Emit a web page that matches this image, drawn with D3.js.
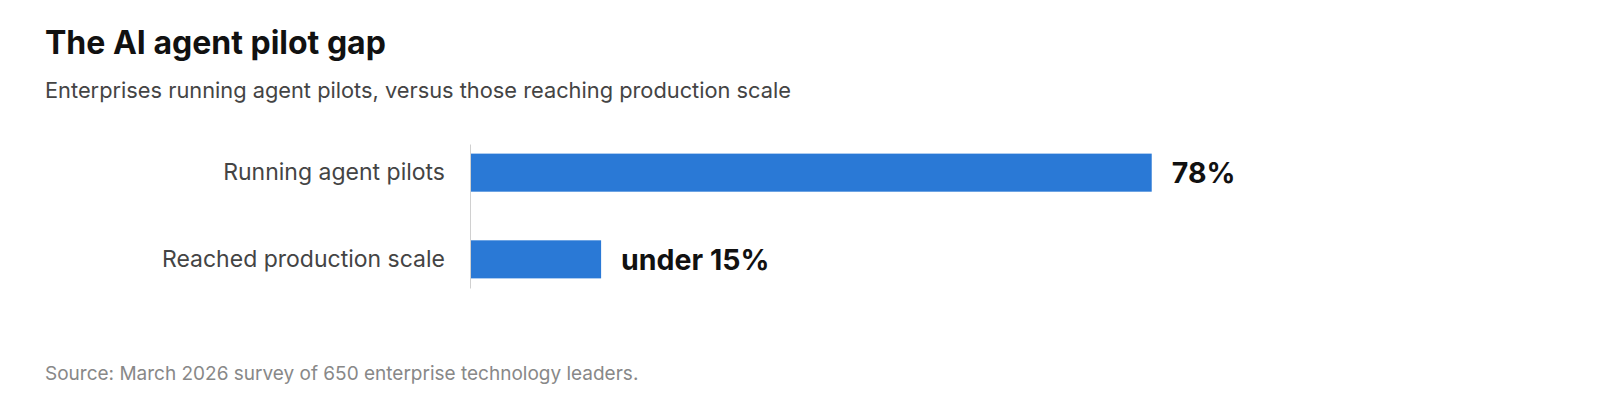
<!DOCTYPE html>
<html>
<head>
<meta charset="utf-8">
<script src="https://cdn.jsdelivr.net/npm/d3@7"></script>
<style>
  html, body { margin: 0; padding: 0; background: #fff; }
  #chart { width: 1600px; height: 410px; }
  text { font-family: Inter, "Noto Sans", sans-serif; }
</style>
</head>
<body>
<div id="chart"></div>
<script>
// chart data
const categories = ["Running agent pilots", "Reached production scale"]
const values     = [78, 15]
const valueLabels = ["78%", "under 15%"]

const title    = "The AI agent pilot gap"
const subtitle = "Enterprises running agent pilots, versus those reaching production scale"
const source   = "Source: March 2026 survey of 650 enterprise technology leaders."

const WIDTH  = 1600
const HEIGHT = 410

var svg = d3.select("#chart")
	.append("svg")
	.attr("width", WIDTH)
	.attr("height", HEIGHT)

svg.append("text")
	.attr("x", 45)
	.attr("y", 54)
	.attr("font-size", 32)
	.attr("font-weight", "bold")
	.attr("fill", "#111")
	.text(title)

svg.append("text")
	.attr("x", 45)
	.attr("y", 98)
	.attr("font-size", 21.8)
	.attr("fill", "#444")
	.text(subtitle)

// scales
let x = d3.scaleLinear()
	.domain([0, 100])
	.range([470, 1344])

let y = d3.scaleBand()
	.domain(categories)
	.range([144, 288])
	.paddingInner(0.561)
	.paddingOuter(0.111)

let data = categories.map(function(c, i) {
	return { cat: c, value: values[i], label: valueLabels[i] }
})

// bars
svg.selectAll(".bar")
	.data(data)
	.enter()
	.append("rect")
	.attr("class", "bar")
	.attr("x", x(0))
	.attr("y", function(d) { return y(d.cat) })
	.attr("width", function(d) { return x(d.value) - x(0) })
	.attr("height", y.bandwidth())
	.attr("fill", "#2a79d6")

// baseline axis
let axis = svg.append("g")
	.attr("transform", "translate(" + x(0) + ",0)")
	.call(d3.axisLeft(y).tickSize(0).tickPadding(25))

axis.select(".domain").attr("stroke", "#d0d0d0").attr("stroke-width", 1)
axis.selectAll("text")
	.attr("font-size", 23)
	.attr("fill", "#444")
	.style("font-family", "Inter, 'Noto Sans', sans-serif")

// value labels
svg.selectAll(".value-label")
	.data(data)
	.enter()
	.append("text")
	.attr("class", "value-label")
	.attr("x", function(d) { return x(d.value) + 20 })
	.attr("y", function(d) { return y(d.cat) + y.bandwidth() / 2 })
	.attr("dy", "0.36em")
	.attr("font-size", 28.5)
	.attr("font-weight", "bold")
	.attr("fill", "#111")
	.text(function(d) { return d.label })

svg.append("text")
	.attr("x", 45)
	.attr("y", 380)
	.attr("font-size", 19)
	.attr("fill", "#888")
	.text(source)
</script>
</body>
</html>
